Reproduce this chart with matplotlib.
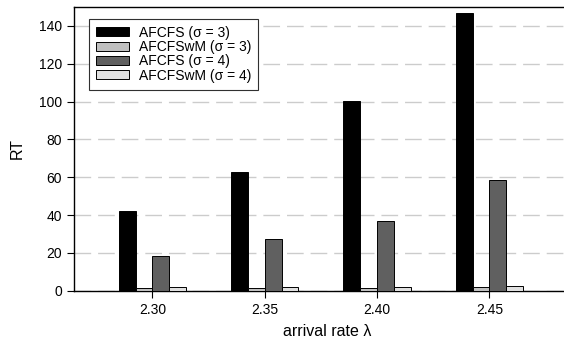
import numpy as np
import matplotlib
matplotlib.use("Agg")
import matplotlib.pyplot as plt

plt.rcParams['font.family'] = ['Liberation Sans', 'DejaVu Sans']

# данные
rates = ['2.30', '2.35', '2.40', '2.45']
afcfs_s3 = [42, 63, 100.5, 146.5]
afcfswm_s3 = [1.5, 1.6, 1.7, 1.9]
afcfs_s4 = [18.5, 27.5, 37, 58.5]
afcfswm_s4 = [2.0, 2.1, 2.3, 2.8]

series = [
    ('AFCFS (σ = 3)', afcfs_s3, '#000000'),
    ('AFCFSwM (σ = 3)', afcfswm_s3, '#c0c0c0'),
    ('AFCFS (σ = 4)', afcfs_s4, '#606060'),
    ('AFCFSwM (σ = 4)', afcfswm_s4, '#e0e0e0'),
]

fig = plt.figure(figsize=(5.64, 3.43), dpi=100)
ax = fig.add_axes([0.131, 0.152, 0.9, 0.828])

x = np.arange(len(rates))
w = 0.15
for i, (name, vals, col) in enumerate(series):
    ax.bar(x + (i - 1.5) * w, vals, w, color=col, edgecolor='black',
           linewidth=0.7, label=name, zorder=3)

# ось x: шаг групп ~112 px
ax.set_xlim(-0.7, 3.82)
ax.set_ylim(0, 150)
ax.set_yticks(range(0, 141, 20))
ax.set_xticks(x)
ax.set_xticklabels(rates)
ax.yaxis.grid(True, linestyle=(0, (12, 5)), color='#cccccc', linewidth=1, zorder=0)
ax.tick_params(labelsize=10, length=5, width=0.8, direction='out')
ax.spines['right'].set_visible(False)
for s in ['left', 'top', 'bottom']:
    ax.spines[s].set_linewidth(1.0)

ax.set_xlabel('arrival rate λ', fontsize=11.5, labelpad=5)
ax.set_ylabel('RT', fontsize=11.5, labelpad=10)

leg = ax.legend(loc='upper left', bbox_to_anchor=(0.03, 0.958), fontsize=10,
                fancybox=False, edgecolor='#303030', framealpha=1,
                handlelength=2.4, handleheight=0.6, borderpad=0.5,
                labelspacing=0.02, handletextpad=0.7, borderaxespad=0)
leg.get_frame().set_linewidth(0.8)

plt.savefig('out.png', dpi=100)
